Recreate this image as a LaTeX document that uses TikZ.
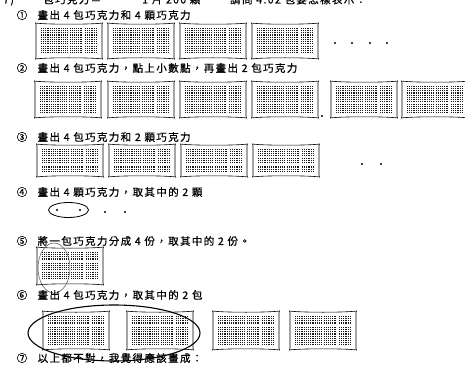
\documentclass[tikz,border=0pt]{standalone}
\usepackage{fontspec}
\newfontfamily\cjk[LetterSpace=13, FakeBold=0.6]{Noto Sans CJK TC}
\usetikzlibrary{positioning}
\tikzstyle{wrapper} = [draw=black, line width=0.6pt, fill=white]
\tikzstyle{item} = [inner sep=0pt, font=\cjk\fontsize{10.5}{12}\selectfont]
\tikzstyle{num} = [inner sep=0pt, font=\cjk\fontsize{10.5}{12}\selectfont]
\tikzstyle{piece} = [circle, fill=black, inner sep=0pt, minimum size=2.2pt]
\tikzstyle{pick} = [draw=black, line width=0.8pt]
% one bar of chocolate: #1,#2 top left corner, #3 height
\newcommand{\chocobar}[3]{%
  \begin{scope}[shift={(#1,#2)}]
    \draw[wrapper] (-0.6,0) .. controls (10,1.6) and (56,1.6) .. (66.6,0) -- (66,1.5) -- (66,#3-1.5) -- (66.6,#3)
      .. controls (56,#3-1.6) and (10,#3-1.6) .. (-0.6,#3) -- (0,#3-1.5) -- (0,1.5) -- cycle;
    \begin{scope}
      \clip (5,5) rectangle (62,#3-5);
      \fill[black!90] (5,5) rectangle (62,#3-5);
      \foreach \g in {6.2,8.4,...,62} \draw[white, line width=0.4pt] (\g,0) -- (\g,#3);
      \foreach \g in {6.2,8.4,...,40} \draw[white, line width=0.4pt] (0,\g) -- (66,\g);
      \foreach \g in {19.2,33.5,47.7} \draw[white, line width=1pt] (\g,0) -- (\g,#3);
      \draw[white, line width=1pt] (0,{5+(#3-10)/3}) -- (66,{5+(#3-10)/3});
      \draw[white, line width=1pt] (0,{5+2*(#3-10)/3}) -- (66,{5+2*(#3-10)/3});
    \end{scope}
  \end{scope}}

\begin{document}
\begin{tikzpicture}[x=1pt, y=-1pt, node distance=10pt]
	\useasboundingbox (0,0) rectangle (465,374);
	% heading line, cut off by the top edge
	\node[item, anchor=base west] (h0) at (3,3.5) {7)};
	\node[item, anchor=base west] (h1) at (43,3.5) {包巧克力＝};
	\node[item, anchor=base west] (h2) at (142,3.5) {1 片 200 顆};
	\node[item, anchor=base west] (h3) at (230,3.5) {請問 4.02 包要怎樣表示：};

	% 1
	\node[num] (n1) at (22,15) {①};
	\node[item, right = of n1] (q1) {畫出 4 包巧克力和 4 顆巧克力};
	\foreach \x in {36,108,180,252} \chocobar{\x}{23}{36};
	\foreach \x [count=\i] in {335,352,370,387} \node[piece] (a\i) at (\x,43) {};

	% 2
	\node[num] (n2) at (22,68) {②};
	\node[item, right = of n2] (q2) {畫出 4 包巧克力，點上小數點，再畫出 2 包巧克力};
	\foreach \x in {35,108,180,252,331,402} \chocobar{\x}{81}{37};
	\node[piece] (point) at (322,116) {};

	% 3
	\node[num] (n3) at (22,137) {③};
	\node[item, right = of n3] (q3) {畫出 4 包巧克力和 2 顆巧克力};
	\foreach \x in {37,109,181,253} \chocobar{\x}{144}{33};
	\foreach \x [count=\i] in {362,381} \node[piece] (b\i) at (\x,164) {};

	% 4
	\node[num] (n4) at (22,192) {④};
	\node[item, right = of n4] (q4) {畫出 4 顆巧克力，取其中的 2 顆};
	\node[piece] (c1) at (57,210) {};
	\node[piece] (c2) at (80,210) {};
	\node[piece] (c3) at (105,212) {};
	\node[piece] (c4) at (125,212) {};
	\draw[pick] (68.5,210) ellipse [x radius=20pt, y radius=7.5pt];

	% 5
	\node[num] (n5) at (22,241) {⑤};
	\node[item, right = of n5] (q5) {將一包巧克力分成 4 份，取其中的 2 份。};
	\chocobar{37}{247}{38}
	\draw[pick, line width=0.5pt, black!70] (54,268) ellipse [x radius=16pt, y radius=25pt];

	% 6
	\node[num] (n6) at (22,295) {⑥};
	\node[item, right = of n6] (q6) {畫出 4 包巧克力，取其中的 2 包};
	\foreach \x in {43,127,213,290} \chocobar{\x}{311}{39};
	\draw[pick, line width=1.1pt] (114,333) ellipse [x radius=86pt, y radius=28pt];

	% 7
	\node[num] (n7) at (22,358) {⑦};
	\node[item, right = of n7] (q7) {以上都不對，我覺得應該畫成：};
\end{tikzpicture}
\end{document}
